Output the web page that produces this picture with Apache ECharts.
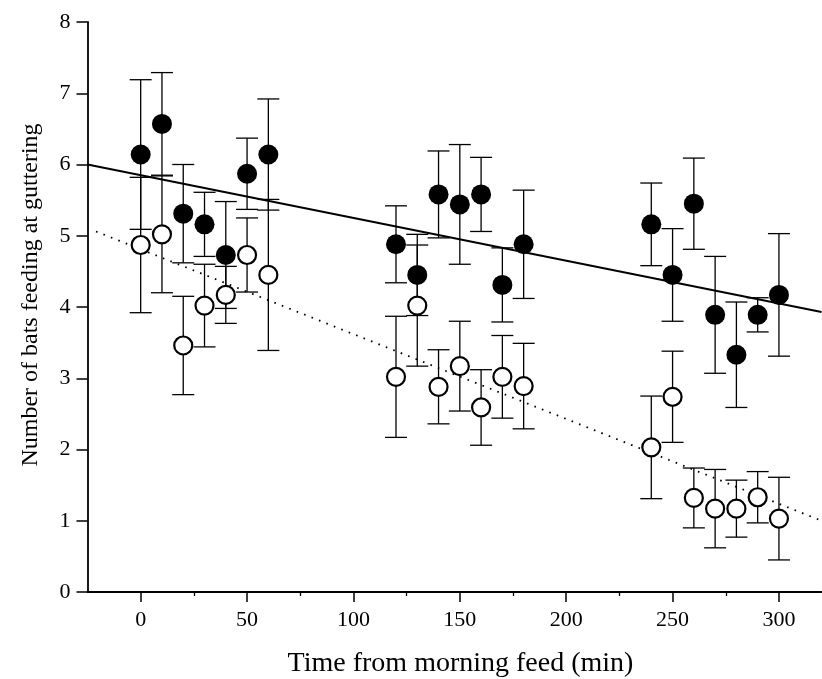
<!DOCTYPE html>
<html>
<head>
<meta charset="utf-8">
<script src="https://cdn.jsdelivr.net/npm/echarts@6/dist/echarts.min.js"></script>
<style>
html,body{margin:0;padding:0;background:#fff;}
#chart{width:822px;height:679px;}
</style>
</head>
<body>
<div id="chart"></div>
<script>
const times = [0,10,20,30,40,50,60,120,130,140,150,160,170,180,240,250,260,270,280,290,300];
const filledMean = [6.14,6.57,5.31,5.16,4.73,5.87,6.14,4.88,4.45,5.58,5.44,5.58,4.31,4.88,5.16,4.45,5.45,3.89,3.33,3.89,4.17];
const filledErr  = [1.05,0.72,0.69,0.45,0.75,0.50,0.78,0.54,0.57,0.61,0.84,0.52,0.52,0.76,0.58,0.65,0.64,0.82,0.74,0.24,0.86];
const openMean   = [4.87,5.02,3.46,4.02,4.17,4.73,4.45,3.02,4.02,2.88,3.17,2.59,3.02,2.89,2.03,2.74,1.32,1.17,1.17,1.33,1.03];
const openErr    = [0.95,0.82,0.69,0.58,0.40,0.52,1.06,0.85,0.85,0.52,0.63,0.53,0.58,0.60,0.72,0.64,0.42,0.55,0.40,0.36,0.58];
const fitSolid   = [[-25,6.00],[320,3.93]];
const fitDotted  = [[-21,5.06],[320,1.00]];
const xMajorTicks = [0,50,100,150,200,250,300];
const xMinorTicks = [25,75,125,175,225,275];
const yTicks = [0,1,2,3,4,5,6,7,8];

const FONT = '"Liberation Serif", "Times New Roman", serif';

function errData(mean, err){
  return times.map((t,i)=>[t, mean[i]-err[i], mean[i]+err[i]]);
}
function errRender(params, api){
  const x = api.value(0);
  const lo = api.coord([x, api.value(1)]);
  const hi = api.coord([x, api.value(2)]);
  const hw = 11;
  const style = {stroke:'#000', lineWidth:1.3, fill:null};
  return {
    type:'group',
    children:[
      {type:'line', shape:{x1:lo[0],y1:lo[1],x2:hi[0],y2:hi[1]}, style:style},
      {type:'line', shape:{x1:lo[0]-hw,y1:lo[1],x2:lo[0]+hw,y2:lo[1]}, style:style},
      {type:'line', shape:{x1:hi[0]-hw,y1:hi[1],x2:hi[0]+hw,y2:hi[1]}, style:style}
    ]
  };
}

const chart = echarts.init(document.getElementById('chart'), null, {renderer:'canvas'});
chart.setOption({
  backgroundColor:'#fff',
  animation:false,
  grid:{left:87.5, top:22, width:734, height:570, containLabel:false, outerBoundsMode:'none'},
  xAxis:[{
    type:'value', min:-25, max:320,
    splitLine:{show:false},
    axisLine:{show:true, onZero:false, lineStyle:{color:'#000', width:1.8}},
    axisTick:{show:true, customValues:xMajorTicks, length:10, inside:false, lineStyle:{color:'#000', width:1.5}},
    axisLabel:{show:true, customValues:xMajorTicks, color:'#000', fontFamily:FONT, fontSize:22, margin:17},
    name:'Time from morning feed (min)', nameLocation:'middle', nameGap:58, nameMoveOverlap:false,
    nameTextStyle:{color:'#000', fontFamily:FONT, fontSize:28, padding:[0,0,0,12]}
  },{
    type:'value', min:-25, max:320, position:'bottom',
    splitLine:{show:false},
    axisLine:{show:false},
    axisTick:{show:true, customValues:xMinorTicks, length:4, lineStyle:{color:'#000', width:1.3}},
    axisLabel:{show:false}
  }],
  yAxis:{
    type:'value', min:0, max:8, interval:1,
    splitLine:{show:false},
    axisLine:{show:true, onZero:false, lineStyle:{color:'#000', width:1.8}},
    axisTick:{show:true, length:11, lineStyle:{color:'#000', width:1.5}},
    axisLabel:{color:'#000', fontFamily:FONT, fontSize:22, margin:17},
    name:'Number of bats feeding at guttering', nameLocation:'middle', nameGap:45, nameMoveOverlap:false,
    nameTextStyle:{color:'#000', fontFamily:FONT, fontSize:24, padding:[0,0,0,24]}
  },
  series:[
    {type:'line', data:fitDotted, symbol:'none', silent:true, z:1,
     lineStyle:{color:'#000', width:1.8, type:[1.6,6.4], cap:'butt'}},
    {type:'line', data:fitSolid, symbol:'none', silent:true, z:1,
     lineStyle:{color:'#000', width:2}},
    {type:'custom', data:errData(filledMean, filledErr), renderItem:errRender, z:2,
     encode:{x:0, y:[1,2]}},
    {type:'custom', data:errData(openMean, openErr), renderItem:errRender, z:2,
     encode:{x:0, y:[1,2]}},
    {type:'scatter', data:times.map((t,i)=>[t, openMean[i]]), symbol:'circle', symbolSize:18, z:3,
     itemStyle:{color:'#fff', borderColor:'#000', borderWidth:2.2, opacity:1}},
    {type:'scatter', data:times.map((t,i)=>[t, filledMean[i]]), symbol:'circle', symbolSize:20, z:4,
     itemStyle:{color:'#000', opacity:1}}
  ]
});
</script>
</body>
</html>
